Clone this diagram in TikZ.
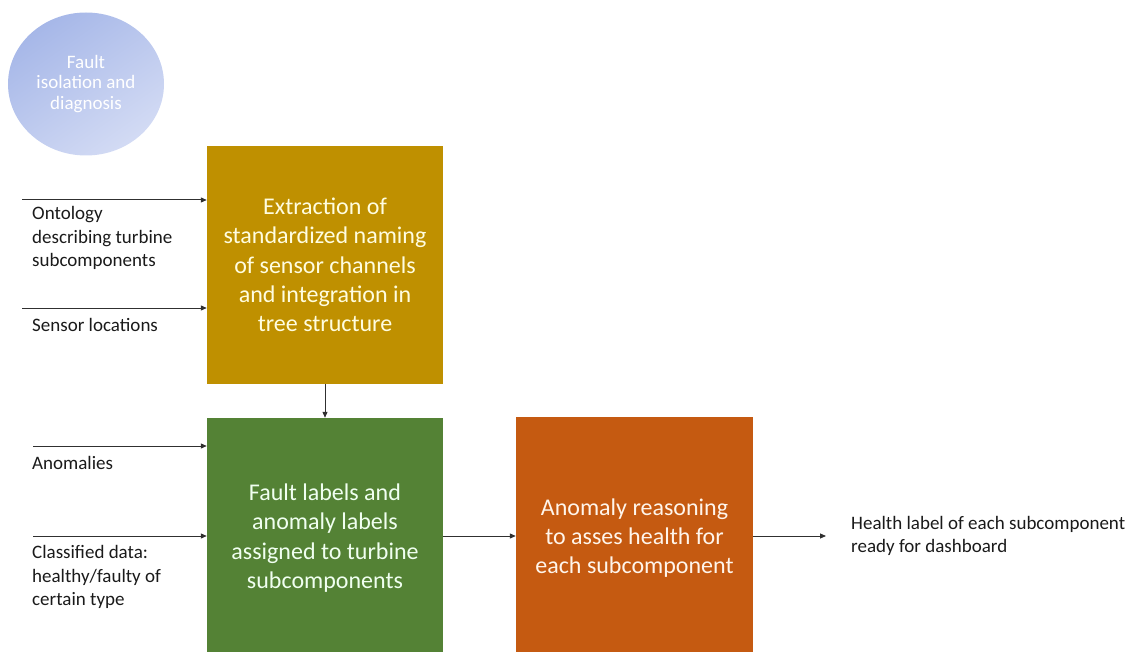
\documentclass[tikz,border=0pt]{standalone}
\usepackage{fontspec}
\setmainfont{Carlito}
\usetikzlibrary{shapes.geometric,arrows.meta}
\definecolor{goldbox}{HTML}{BF9000}
\definecolor{greenbox}{HTML}{548235}
\definecolor{orangebox}{HTML}{C55A11}
\definecolor{circA}{HTML}{A6B7E8}
\definecolor{circB}{HTML}{D3DBF4}
\definecolor{linegray}{HTML}{303030}
\definecolor{labeltext}{HTML}{1A1A1A}
\tikzset{
  procbox/.style={draw=none, minimum width=236pt, inner sep=0pt, align=center,
    font=\fontsize{24}{29.3}\selectfont},
  sidelabel/.style={inner sep=0pt, align=left, text=labeltext,
    font=\fontsize{19}{23.3}\selectfont},
  flow/.style={draw=linegray, line width=1pt, -{Triangle[length=6pt,width=5pt]}}
}
\begin{document}
\begin{tikzpicture}[x=1pt,y=-1pt]
\useasboundingbox (0,0) rectangle (1132,652);
% circle
\node[ellipse, minimum width=156pt, minimum height=143pt, inner sep=0pt,
  top color=circA, bottom color=circB, shading angle=35,
  text=white, align=center, font=\fontsize{19}{20.5}\selectfont]
  (circ) at (86,84) {Fault\\isolation and\\diagnosis};
% boxes
\node[procbox, fill=goldbox, minimum height=238pt, text=yellow!12!white]
  (extract) at (325,265) {Extraction of\\standardized naming\\of sensor channels\\and integration in\\tree structure};
\node[procbox, fill=greenbox, minimum height=240pt, text=green!6!white]
  (fault) at (325,538) {Fault labels and\\anomaly labels\\assigned to turbine\\subcomponents};
\node[procbox, fill=orangebox, minimum width=237pt, minimum height=242pt, text=orange!8!white]
  (reason) at (634.5,538) {Anomaly reasoning\\to asses health for\\each subcomponent};
% side labels
\node[sidelabel, anchor=west] (onto) at (32,238) {Ontology\\describing turbine\\subcomponents};
\node[sidelabel, anchor=west] (sens) at (32,325) {Sensor locations};
\node[sidelabel, anchor=west] (anom) at (32,463) {Anomalies};
\node[sidelabel, anchor=west] (class) at (32,577) {Classified data:\\healthy/faulty of\\certain type};
\node[sidelabel, anchor=west] (health) at (851,536) {Health label of each subcomponent\\ready for dashboard};
% arrow start/end coordinates
\coordinate (s1) at (22,200);
\coordinate (s2) at (22,308);
\coordinate (s3) at (33,446);
\coordinate (s4) at (33,536);
\coordinate (out) at (826,536);
% connectors
\draw[flow] (s1) -- (s1 -| extract.west);
\draw[flow] (s2) -- (s2 -| extract.west);
\draw[flow] (s3) -- (s3 -| fault.west);
\draw[flow] (s4) -- (s4 -| fault.west);
\draw[flow] (extract.south) -- (fault.north);
\draw[flow] (s4 -| fault.east) -- (s4 -| reason.west);
\draw[flow] (s4 -| reason.east) -- (out);
\end{tikzpicture}
\end{document}
